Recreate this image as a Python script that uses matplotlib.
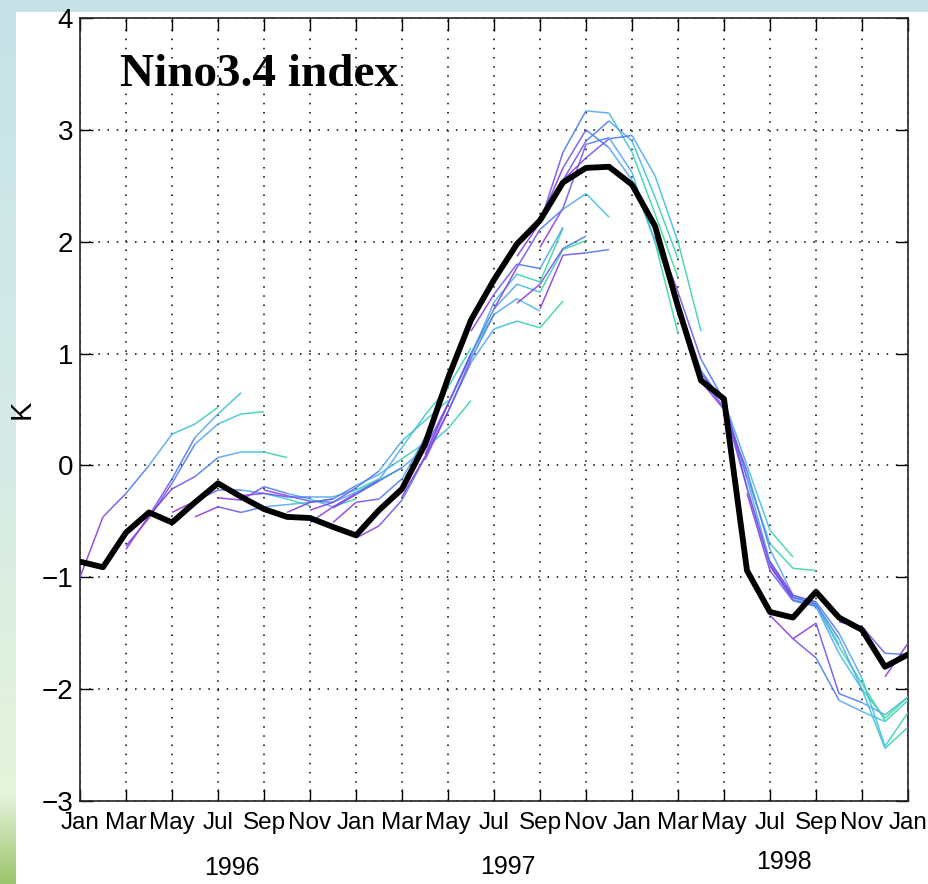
import numpy as np
import matplotlib
matplotlib.use("Agg")
import matplotlib.pyplot as plt
from matplotlib.collections import LineCollection
from matplotlib.colors import LinearSegmentedColormap
from matplotlib.patches import Rectangle
import matplotlib.transforms as mtransforms

plt.rcParams['font.family'] = ['Liberation Sans', 'DejaVu Sans']

# ---------------- data ----------------
month_labels = ['Jan', 'Mar', 'May', 'Jul', 'Sep', 'Nov'] * 3 + ['Jan']
year_labels = ['1996', '1997', '1998']
year_months = [6, 18, 30]

# observed Nino3.4 anomaly, monthly Jan 1996 .. Jan 1999
obs = [-0.86, -0.91, -0.60, -0.42, -0.51, -0.33, -0.16, -0.28, -0.39, -0.46,
       -0.47, -0.55, -0.625, -0.40, -0.21, 0.19, 0.78, 1.30, 1.66, 1.98,
       2.19, 2.53, 2.66, 2.67, 2.51, 2.14, 1.42, 0.76, 0.595, -0.94,
       -1.31, -1.36, -1.13, -1.36, -1.47, -1.80, -1.69]

# forecasts: start month and values (coloured by lead time)
fc_start = [0, 2, 2, 3, 4, 5, 6, 7, 8, 9,
            10, 10, 11, 11, 12, 14, 14, 15, 15, 17,
            19, 20, 20, 21, 20, 18, 19, 20,
            25, 25, 26, 26, 27, 28, 29, 30, 30, 30, 31, 33, 35]
fc_values = [
    [-1.00, -0.46, -0.25, 0.00, 0.28, 0.37, 0.52],
    [-0.75, -0.45, -0.12, 0.25, 0.46, 0.65],
    [-0.72, -0.47, -0.16, 0.19, 0.37, 0.46, 0.48],
    [-0.45, -0.21, -0.10, 0.07, 0.12, 0.12, 0.07],
    [-0.42, -0.32, -0.22, -0.22, -0.25, -0.30, -0.36],
    [-0.46, -0.37, -0.42, -0.37, -0.35, -0.33, -0.30],
    [-0.29, -0.31, -0.19, -0.25, -0.30, -0.37, -0.30],
    [-0.27, -0.25, -0.28, -0.28, -0.28, -0.22, -0.12],
    [-0.22, -0.27, -0.32, -0.33, -0.24, -0.13, -0.02],
    [-0.42, -0.33, -0.30, -0.18, -0.08, 0.06, 0.20],
    [-0.51, -0.37, -0.25, -0.13, 0.16, 0.45, 0.70],
    [-0.40, -0.33, -0.20, -0.05, 0.22, 0.40, 0.58],
    [-0.38, -0.26, -0.14, -0.02, 0.15, 0.33, 0.58],
    [-0.51, -0.33, -0.30, -0.12, 0.25, 0.70, 1.05],
    [-0.65, -0.54, -0.31, 0.07, 0.55, 1.00, 1.35],
    [-0.20, 0.15, 0.55, 0.98, 1.46, 1.71, 1.64, 2.12],
    [-0.28, 0.08, 0.48, 0.92, 1.22, 1.29, 1.23, 1.47],
    [0.10, 0.55, 1.00, 1.40, 1.62, 1.55, 1.93, 2.01],
    [0.05, 0.48, 0.95, 1.35, 1.49, 1.38],
    [1.20, 1.53, 1.80, 1.76, 2.13],
    [1.87, 2.17, 2.80, 3.17, 3.15, 2.80, 2.25, 1.68],
    [2.19, 2.66, 3.00, 2.84, 2.55, 2.00, 1.45],
    [2.17, 2.55, 2.90, 3.08, 2.90, 2.40, 1.85],
    [2.55, 2.75, 2.92, 2.95, 2.59, 2.00, 1.20],
    [1.95, 2.30, 2.87, 2.93, 2.62, 2.00, 1.18],
    [1.40, 1.77, 2.11, 2.29, 2.43, 2.22],
    [1.45, 1.62, 1.94, 2.05],
    [1.40, 1.88, 1.90, 1.93],
    [2.10, 1.55, 0.95, 0.58, 0.00, -0.58, -0.82],
    [2.05, 1.45, 0.85, 0.55, -0.10, -0.70, -0.92, -0.94],
    [1.45, 0.82, 0.58, -0.12, -0.86, -1.18, -1.22],
    [1.40, 0.78, 0.52, -0.20, -0.90, -1.20, -1.26],
    [0.75, 0.50, -0.05, -0.75, -1.16, -1.24, -1.60],
    [0.58, -0.20, -0.88, -1.20, -1.25, -1.62, -1.95, -2.28],
    [-0.25, -0.94, -1.21, -1.26, -1.68, -2.00, -2.26, -2.07],
    [-0.90, -1.18, -1.24, -1.55, -2.00, -2.53, -2.34],
    [-0.86, -1.16, -1.22, -1.50, -1.90, -2.51, -2.21],
    [-1.34, -1.55, -1.72, -2.10, -2.20, -2.29, -2.10],
    [-1.55, -1.41, -2.04, -2.12, -2.23, -2.07],
    [-1.40, -1.44, -1.68, -1.69],
    [-1.89, -1.59],
]

# ---------------- figure ----------------
W, H = 929, 884
fig = plt.figure(figsize=(W / 100, H / 100), dpi=100)

bg = fig.add_axes([0, 0, 1, 1], zorder=-10)
grad = np.linspace(0, 1, 256).reshape(-1, 1)
cm_bg = LinearSegmentedColormap.from_list(
    'bg', [(0, '#c6e2e6'), (0.55, '#d8ece6'), (0.9, '#e6f3dc'), (1.0, '#9cc46c')])
bg.imshow(grad, aspect='auto', cmap=cm_bg, extent=[0, 1, 0, 1], origin='upper')
bg.add_patch(Rectangle((16 / W, 0), 1, 1 - 12 / H, color='white', lw=0))
bg.set_xlim(0, 1)
bg.set_ylim(0, 1)
bg.axis('off')

ax = fig.add_axes([80 / W, 83 / H, 828 / W, 783 / H])
ax.set_facecolor('white')

lead_cmap = LinearSegmentedColormap.from_list(
    'lead', ['#9a30d8', '#7a4cec', '#4f78f2', '#58aaf0', '#38c8d4', '#3ed89a'])
max_lead = 6
for s, vals in zip(fc_start, fc_values):
    xs = np.arange(s, s + len(vals))
    pts = np.column_stack([xs, vals])
    segs = [pts[i:i + 2] for i in range(len(vals) - 1)]
    cols = [lead_cmap(min(i + 0.5, max_lead) / max_lead) for i in range(len(vals) - 1)]
    lc = LineCollection(segs, colors=cols, linewidths=1.1, alpha=0.9, zorder=3)
    ax.add_collection(lc)

months = np.arange(len(obs))
ax.plot(months, obs, color='black', lw=4.2, zorder=4, solid_joinstyle='round')

ax.set_xlim(0, 36)
ax.set_ylim(-3, 4)
ax.set_xticks(np.arange(0, 37, 2))
ax.set_xticklabels(month_labels)
ax.set_yticks(np.arange(-3, 5, 1))
ax.tick_params(direction='in', top=True, right=True, length=9, width=1,
               labelsize=20, pad=5, colors='black')
ax.tick_params(axis='x', pad=8, labelsize=17.5)
ax.grid(True, color='black', linestyle=(0, (1, 5)), linewidth=1.1)
for sp in ax.spines.values():
    sp.set_linewidth(1.2)
    sp.set_color('#222222')

ax.set_ylabel('K', fontsize=21)
ax.yaxis.set_label_coords(-0.054, 0.5)

ax.text(0.048, 0.927, 'Nino3.4 index', transform=ax.transAxes,
        ha='left', va='center', fontsize=34, fontweight='bold',
        family=['Liberation Serif', 'DejaVu Serif'])

trans = mtransforms.blended_transform_factory(ax.transData, ax.transAxes)
for m, lab, yy in zip(year_months, year_labels, [-0.086, -0.084, -0.078]):
    ax.text(m + 0.6, yy, lab, transform=trans, ha='center', va='center', fontsize=18)

fig.savefig('out.png', dpi=100)
